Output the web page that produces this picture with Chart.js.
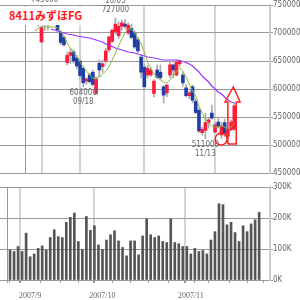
<!DOCTYPE html>
<html>
<head>
<meta charset="utf-8">
<script src="https://cdn.jsdelivr.net/npm/chart.js@4.4.0/dist/chart.umd.min.js"></script>
<style>
html,body{margin:0;padding:0;background:#fff;}
#wrap{position:relative;width:300px;height:300px;overflow:hidden;}
#title{position:absolute;left:7px;top:7px;height:18px;line-height:18px;padding:0 3px 0 2px;background:#fff;color:#ff1a1a;font:bold 11px "Noto Sans CJK JP",sans-serif;}
</style>
</head>
<body>
<div id="wrap">
  <canvas id="priceChart" width="300" height="180" style="position:absolute;left:0;top:0"></canvas>
  <canvas id="volChart" width="300" height="120" style="position:absolute;left:0;top:180px"></canvas>
  <div id="title">8411みずほFG</div>
</div>
<script>
// daily data, 2007/08/27 - 2007/11/27
var dates=['08/27','08/28','08/29','08/30','08/31','09/03','09/04','09/05','09/06','09/07',
  '09/10','09/11','09/12','09/13','09/14','09/18','09/19','09/20','09/21','09/25',
  '09/26','09/27','09/28','10/01','10/02','10/03','10/04','10/05','10/09','10/10',
  '10/11','10/12','10/15','10/16','10/17','10/18','10/19','10/22','10/23','10/24',
  '10/25','10/26','10/29','10/30','10/31','11/01','11/02','11/05','11/06','11/07',
  '11/08','11/09','11/12','11/13','11/14','11/15','11/16','11/19','11/20','11/21',
  '11/22','11/26','11/27'];
var opens=[731000,719000,684000,726000,728000,730000,729000,714000,700000,692000,
  647000,660000,666000,655000,650000,637000,614000,625000,630000,592000,
  646000,640000,650000,670000,685000,702000,695000,712000,716000,700000,
  708000,700000,688000,657000,639000,625000,625000,592000,634000,630000,
  604000,593000,625000,643000,625000,645000,625000,602000,588000,604000,
  578000,562000,522000,526000,540000,557000,523000,541000,518000,540000,
  516000,527000,528000];
var highs=[734000,728000,712000,745000,733000,735000,733000,720000,704000,695000,
  666000,672000,670000,660000,652000,640000,620000,628000,634000,622000,
  652000,652000,673000,694000,707000,727000,720000,723000,724000,718000,
  716000,704000,692000,660000,645000,642000,638000,617000,643000,643000,
  606000,608000,648000,645000,652000,652000,630000,608000,596000,607000,
  582000,566000,532000,557000,548000,571000,540000,550000,541000,546000,
  530000,545000,575000];
var lows=[718000,712000,682000,704000,705000,727000,724000,703000,679000,676000,
  643000,645000,646000,636000,620000,604000,608000,610000,606000,590000,
  622000,630000,646000,666000,683000,698000,690000,705000,708000,697000,
  690000,672000,665000,620000,598000,620000,622000,586000,618000,617000,
  575000,586000,620000,620000,623000,640000,605000,586000,583000,575000,
  556000,522000,518000,511000,530000,546000,522000,530000,512000,515000,
  513000,525000,526000];
var closes=[721000,725000,710000,730000,715000,729000,726000,705000,683000,679000,
  660000,665000,650000,641000,624000,611000,618000,613000,608000,618000,
  634000,645000,668000,693000,705000,716000,712000,718000,712000,714000,
  692000,675000,668000,630000,604000,637000,634000,614000,621000,620000,
  589000,607000,643000,634000,648000,650000,611000,588000,593000,580000,
  558000,525000,528000,540000,545000,548000,536000,533000,534000,521000,
  527000,541000,570000];
var volumes=[97000,92000,108000,92000,151000,75000,84000,102000,110000,97000,
  137000,162000,140000,137000,186000,202000,216000,124000,99000,205000,
  160000,175000,113000,99000,129000,146000,159000,126000,105000,78000,
  126000,126000,81000,142000,197000,146000,137000,142000,124000,121000,
  197000,121000,117000,108000,108000,84000,102000,92000,95000,84000,
  129000,156000,246000,243000,178000,186000,153000,124000,175000,156000,
  181000,194000,218000];
// moving average lines as drawn (green = short, purple = long)
var maShort=[703600,708900,710700,710700,710700,710700,710700,708900,703600,694600,
  682100,673200,664300,657100,648200,639300,632100,625000,619600,617900,
  621400,626800,632100,639300,651800,664300,676800,689300,700000,707100,
  707100,700000,691100,680400,666100,648200,637500,626800,621400,616100,
  612500,610700,616100,623200,630400,637500,632100,621400,608900,596400,
  587500,569600,557100,546400,539300,533900,532100,532100,533900,532100,
  526800,532100,539300];
var maLong=[null,null,null,null,null,707100,705400,703600,701800,700000,
  698200,697300,696400,694600,693800,692900,692000,691100,689300,687500,
  685700,683900,680400,678600,675900,673200,671400,669600,667900,666100,
  665200,664300,662500,660700,658900,657100,656300,655400,654500,652700,
  651800,651800,651800,651800,651800,650900,649100,647300,644600,641100,
  635700,630400,623200,617900,612500,605400,600000,594600,591100,585700,
  580400,576800,575000];
var priceTicks=[450000,500000,550000,600000,650000,700000,750000];
var volTicks=[0,100000,200000,300000];
var monthStarts=[5,23,45];
var monthLabels=['2007/9','2007/10','2007/11'];
var weekStarts=[0,10,15,19,28,32,37,42,47,52,57,61];
// high / low marks
var markIdx=[3,15,25,53];
var markKind=['high','low','high','low'];
// hand-drawn notes, in index / price units
var noteCircle=[57.9,510700];
var noteArrowX=[60.0,60.0,59.1,61.7,63.8,62.6,62.6,60.0];
var noteArrowY=[501800,576800,576800,603600,576800,576800,501800,501800];

var axisFont={family:'"DejaVu Sans Condensed"',size:8};
var smallFont='8px "Liberation Sans Narrow", "DejaVu Sans Condensed"';
var idx=dates.map(function(d,i){return i;});

var markers={
  id:'markers',
  afterDatasetsDraw:function(chart){
    var c=chart.ctx, xs=chart.scales.x, ys=chart.scales.y;
    c.save();
    c.font=smallFont;
    c.fillStyle='#666';
    c.textAlign='center';
    markIdx.forEach(function(i,k){
      var px=xs.getPixelForValue(i), py;
      if(markKind[k]=='high'){
        py=ys.getPixelForValue(highs[i]);
        c.textBaseline='bottom';
        c.fillText(String(highs[i]),px,py-4);
        c.fillText(dates[i],px,py-13);
      }else{
        py=ys.getPixelForValue(lows[i]);
        c.textBaseline='top';
        c.fillText(String(lows[i]),px,py+2);
        c.fillText(dates[i],px,py+11);
      }
    });
    c.strokeStyle='#ff2020';
    c.lineWidth=1.5;
    c.beginPath();
    c.arc(xs.getPixelForValue(noteCircle[0]),ys.getPixelForValue(noteCircle[1]),6,0,Math.PI*2);
    c.stroke();
    c.beginPath();
    noteArrowX.forEach(function(v,k){
      var px=xs.getPixelForValue(v), py=ys.getPixelForValue(noteArrowY[k]);
      if(k==0) c.moveTo(px,py); else c.lineTo(px,py);
    });
    c.stroke();
    c.restore();
  }
};

var priceChart=new Chart(document.getElementById('priceChart'),{
  type:'bar',
  data:{
    datasets:[{
      type:'line',
      data:idx.map(function(i){return {x:i,y:maShort[i]};}),
      borderColor:'#8fb63a',borderWidth:1,pointRadius:0,order:0
    },{
      type:'line',
      data:idx.map(function(i){return {x:i,y:maLong[i]};}),
      borderColor:'#9b30ff',borderWidth:1.2,pointRadius:0,order:0
    },{
      data:idx.map(function(i){return {x:i,y:[opens[i],closes[i]]};}),
      backgroundColor:idx.map(function(i){return closes[i]>=opens[i]?'#ff1a3c':'#1f3fa8';}),
      barThickness:3,minBarLength:1,grouped:false,order:1
    },{
      data:idx.map(function(i){return {x:i,y:[lows[i],highs[i]]};}),
      backgroundColor:'#aaaaaa',
      barThickness:1,grouped:false,order:2
    }]
  },
  options:{
    responsive:false,animation:false,devicePixelRatio:1,
    layout:{padding:{top:5,bottom:7,left:0,right:0}},
    plugins:{legend:{display:false},tooltip:{enabled:false}},
    scales:{
      x:{type:'linear',min:-0.4,max:62.6,
        afterBuildTicks:function(s){s.ticks=[-0.4].concat(monthStarts).map(function(v){return {value:v};});},
        afterFit:function(s){s.height=0;},
        ticks:{display:false},
        grid:{drawTicks:false,
          color:function(ctx){return ctx.tick&&ctx.tick.value<0?'#999':'#d4d4d4';},
          lineWidth:function(ctx){return ctx.tick&&ctx.tick.value<0?1:2;}},
        border:{display:false}
      },
      y:{position:'right',min:450000,max:750000,
        afterBuildTicks:function(s){s.ticks=priceTicks.map(function(v){return {value:v};});},
        afterFit:function(s){s.width=30;},
        ticks:{color:'#666',font:axisFont,padding:0,callback:function(v){return String(v);}},
        grid:{color:'#999',tickLength:3},
        border:{display:true,color:'#ccc',width:2}
      }
    }
  },
  plugins:[markers]
});

var volChart=new Chart(document.getElementById('volChart'),{
  type:'bar',
  data:{
    datasets:[{
      data:idx.map(function(i){return {x:i,y:volumes[i]};}),
      backgroundColor:'#555',barThickness:2
    }]
  },
  options:{
    responsive:false,animation:false,devicePixelRatio:1,
    layout:{padding:{top:7,bottom:0,left:0,right:0}},
    plugins:{legend:{display:false},tooltip:{enabled:false}},
    scales:{
      x:{type:'linear',min:-0.4,max:62.6,
        afterBuildTicks:function(s){
          var v=[-0.4].concat(weekStarts,monthStarts).sort(function(a,b){return a-b;});
          s.ticks=v.filter(function(t,k){return v.indexOf(t)==k;}).map(function(t){return {value:t};});
        },
        afterFit:function(s){s.height=20;},
        ticks:{autoSkip:false,maxRotation:0,color:'#666',padding:8,
          font:{family:'"Liberation Sans Narrow"',size:8},
          callback:function(v){var k=monthStarts.indexOf(v);return k<0?'':monthLabels[k];}},
        grid:{tickLength:3,tickColor:'#999',
          color:function(ctx){
            if(!ctx.tick) return 'rgba(0,0,0,0)';
            if(ctx.tick.value<0) return '#999';
            return monthStarts.indexOf(ctx.tick.value)<0?'rgba(0,0,0,0)':'#d4d4d4';},
          lineWidth:function(ctx){return ctx.tick&&monthStarts.indexOf(ctx.tick.value)>=0?2:1;}},
        border:{display:false}
      },
      y:{position:'right',min:0,max:300000,
        afterBuildTicks:function(s){s.ticks=volTicks.map(function(v){return {value:v};});},
        afterFit:function(s){s.width=30;},
        ticks:{color:'#666',font:axisFont,padding:0,callback:function(v){return (v/1000)+'K';}},
        grid:{color:'#999',tickLength:3},
        border:{display:true,color:'#ccc',width:2}
      }
    }
  }
});
</script>
</body>
</html>
